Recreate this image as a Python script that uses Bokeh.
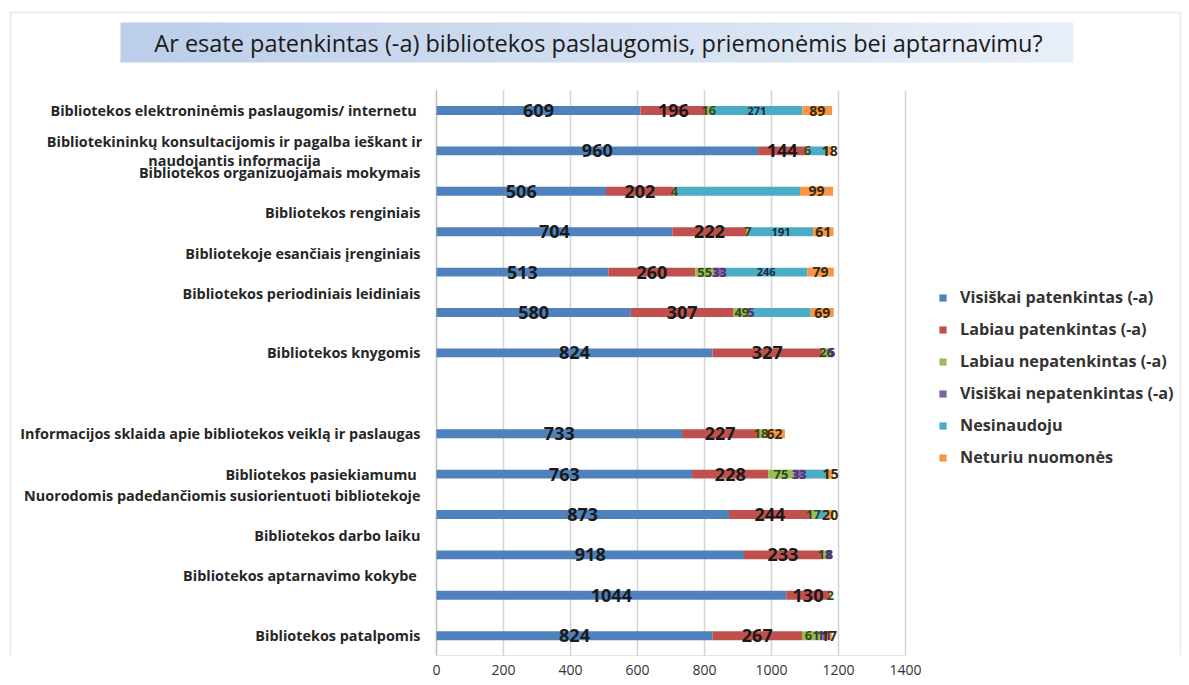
from bokeh.plotting import figure
from bokeh.models import (ColumnDataSource, Range1d, Legend, LegendItem, Label,
                          BoxAnnotation, FixedTicker)
from bokeh.core.properties import value
from bokeh.embed import file_html
from bokeh.resources import INLINE

title_text = "Ar esate patenkintas (-a) bibliotekos paslaugomis, priemonėmis bei aptarnavimu?"

categories = [
    "Bibliotekos elektroninėmis paslaugomis/ internetu ",
    "Bibliotekininkų konsultacijomis ir pagalba ieškant ir\nnaudojantis informacija",
    "Bibliotekos organizuojamais mokymais",
    "Bibliotekos renginiais",
    "Bibliotekoje esančiais įrenginiais",
    "Bibliotekos periodiniais leidiniais",
    "Bibliotekos knygomis",
    "",
    "Informacijos sklaida apie bibliotekos veiklą ir paslaugas",
    "Bibliotekos pasiekiamumu ",
    "Nuorodomis padedančiomis susiorientuoti bibliotekoje",
    "Bibliotekos darbo laiku",
    "Bibliotekos aptarnavimo kokybe ",
    "Bibliotekos patalpomis",
]

series = ["Visiškai patenkintas (-a)", "Labiau patenkintas (-a)", "Labiau nepatenkintas (-a)",
          "Visiškai nepatenkintas (-a)", "Nesinaudoju", "Neturiu nuomonės"]

visiskai_patenkintas = [609, 960, 506, 704, 513, 580, 824, 0, 733, 763, 873, 918, 1044, 824]
labiau_patenkintas = [196, 144, 202, 222, 260, 307, 327, 0, 227, 228, 244, 233, 130, 267]
labiau_nepatenkintas = [16, 6, 4, 7, 55, 49, 26, 0, 18, 75, 17, 18, 2, 61]
visiskai_nepatenkintas = [0, 0, 0, 0, 33, 5, 5, 0, 0, 33, 0, 8, 0, 11]
nesinaudoju = [271, 55, 373, 191, 246, 176, 0, 0, 0, 70, 31, 0, 0, 0]
neturiu_nuomones = [89, 18, 99, 61, 79, 69, 0, 0, 62, 15, 20, 0, 0, 17]

# which "Nesinaudoju" values carry a data label in the original
nesinaudoju_labelled = [True, False, False, True, True, False, False,
                        False, False, False, False, False, False, False]

x_ticks = [0, 200, 400, 600, 800, 1000, 1200, 1400]

values = [visiskai_patenkintas, labiau_patenkintas, labiau_nepatenkintas,
          visiskai_nepatenkintas, nesinaudoju, neturiu_nuomones]
keys = ["s%d" % i for i in range(len(series))]
colors = ["#4F81BD", "#C0504D", "#9BBB59", "#8064A2", "#4BACC6", "#F79646"]
label_colors = ["#1a1a1a", "#1a1a1a", "#2f4a1a", "#4b3570", "#1a2a38", "#3a2810"]
label_sizes = ["18px", "18px", "13px", "13px", "11px", "14px"]

# category label vertical shifts in px (style: the original's labels sit above some bars)
label_shift = [0, 0, -19, -19, -19, -19, 0, 0, 0, 0, -19, -19, -20, 0]

rows = list(range(len(categories)))
data = {"row": rows, "cat": categories}
for k, v in zip(keys, values):
    data[k] = v
source = ColumnDataSource(data)

FONT = "Open Sans"
W, H = 1189, 685
MB = 30                      # room for the x axis below the frame
FH = H - MB                  # frame height (frame spans the full width)
PX0, PX1400 = 436, 905       # where 0 and 1400 sit on the page
ROW0_PX, ROW_STEP = 110, 40.4
k = 1400 / (PX1400 - PX0)
x_range = Range1d(-PX0 * k, (W - PX0) * k)
y_range = Range1d((FH - ROW0_PX) / ROW_STEP, -ROW0_PX / ROW_STEP)

p = figure(width=W, height=H, x_range=x_range, y_range=y_range,
           output_backend="svg", toolbar_location=None,
           min_border_left=0, min_border_right=0, min_border_top=0, min_border_bottom=MB,
           background_fill_color="white", border_fill_color="white")
p.outline_line_color = None
p.xgrid.grid_line_color = None
p.ygrid.grid_line_color = None
p.yaxis.visible = False

# outer chart border (screen units relative to the frame)
p.add_layout(BoxAnnotation(left=10, right=1180, top=FH - 12, bottom=-60,
                           left_units="screen", right_units="screen",
                           top_units="screen", bottom_units="screen",
                           fill_alpha=0, line_color="#c4c4c4", line_width=2, level="underlay"))

# title banner with a left-to-right gradient
steps = 48
bx0, bx1 = 120, 1072
for s in range(steps):
    t = s / (steps - 1)
    r = int(188 + (232 - 188) * t)
    g = int(206 + (239 - 206) * t)
    b = int(233 + (248 - 233) * t)
    l = bx0 + (bx1 - bx0) * s / steps
    rr = bx0 + (bx1 - bx0) * (s + 1) / steps + 1
    p.add_layout(BoxAnnotation(left=l, right=rr, top=FH - 22, bottom=FH - 62,
                               left_units="screen", right_units="screen",
                               top_units="screen", bottom_units="screen",
                               fill_color="#%02x%02x%02x" % (r, g, b), fill_alpha=1,
                               line_color=None, level="underlay"))
p.add_layout(Label(x=598, y=FH - 42, x_units="screen", y_units="screen", text=title_text,
                   text_align="center", text_baseline="middle", text_font=FONT,
                   text_font_size="23.5px", text_color="#1a1a1a"))

# plot-area grid and axis lines, drawn from the tick values
top, bottom = -0.5, len(categories) - 0.5
p.segment(x0=x_ticks, y0=[bottom] * len(x_ticks), x1=x_ticks, y1=[top] * len(x_ticks),
          line_color="#d4d4d4", line_width=1.5)
p.segment(x0=[x_ticks[0], x_ticks[0]], y0=[top, bottom], x1=[x_ticks[0], x_ticks[-1]],
          y1=[bottom, bottom], line_color="#bdbdbd", line_width=1.2)

renderers = p.hbar_stack(keys, y="row", height=0.22, color=colors, source=source, line_width=0)

# data labels
for i, (kk, v) in enumerate(zip(keys, values)):
    xs, ys, ts = [], [], []
    for r in rows:
        before = sum(values[j][r] for j in range(i))
        val = v[r]
        if val <= 0:
            continue
        if kk == "s4" and not nesinaudoju_labelled[r]:
            continue
        xs.append(before + val / 2)
        ys.append(r)
        ts.append(str(val))
    p.text(x=xs, y=ys, text=ts, text_align="center", text_baseline="middle",
           text_font=value(FONT), text_font_style="bold", text_font_size=label_sizes[i],
           text_color=label_colors[i])

# category labels
CAT_SIZE = "14.4px"
single = [(r, c, s) for r, c, s in zip(rows, categories, label_shift) if "\n" not in c and c.strip()]
lab_src = ColumnDataSource(dict(y=[r for r, c, s in single], t=[c for r, c, s in single],
                                off=[s for r, c, s in single], x=[0] * len(single)))
p.text(x="x", y="y", text="t", y_offset="off", x_offset=-16, source=lab_src,
       text_align="right", text_baseline="middle", text_font=value(FONT),
       text_font_style="bold", text_font_size=CAT_SIZE, text_color="#262626")
multi = [(r, c) for r, c in zip(rows, categories) if "\n" in c]
p.text(x=[0] * len(multi), y=[r for r, c in multi], text=[c for r, c in multi], x_offset=-202,
       text_align="center", text_baseline="middle", text_font=value(FONT),
       text_font_style="bold", text_font_size=CAT_SIZE, text_color="#262626",
       text_line_height=1.0)

# x axis
p.xaxis.ticker = FixedTicker(ticks=x_ticks)
p.xaxis.major_label_text_font = FONT
p.xaxis.major_label_text_font_size = "14px"
p.xaxis.major_label_text_color = "#333333"
p.xaxis.major_tick_line_color = None
p.xaxis.minor_tick_line_color = None
p.xaxis.axis_line_color = None
p.xaxis.major_label_standoff = 3

# legend (inside the wide frame, right of the plot area)
legend = Legend(items=[LegendItem(label=s, renderers=[r]) for s, r in zip(series, renderers)],
                location=(938, FH - 468), padding=8, spacing=10, margin=0,
                glyph_width=9, glyph_height=9, label_standoff=13, label_height=18,
                label_text_font=FONT, label_text_font_style="bold",
                label_text_font_size="16.2px", label_text_color="#333333",
                border_line_color=None, background_fill_alpha=0)
p.add_layout(legend)

open("out.html", "w").write(file_html(p, INLINE))
